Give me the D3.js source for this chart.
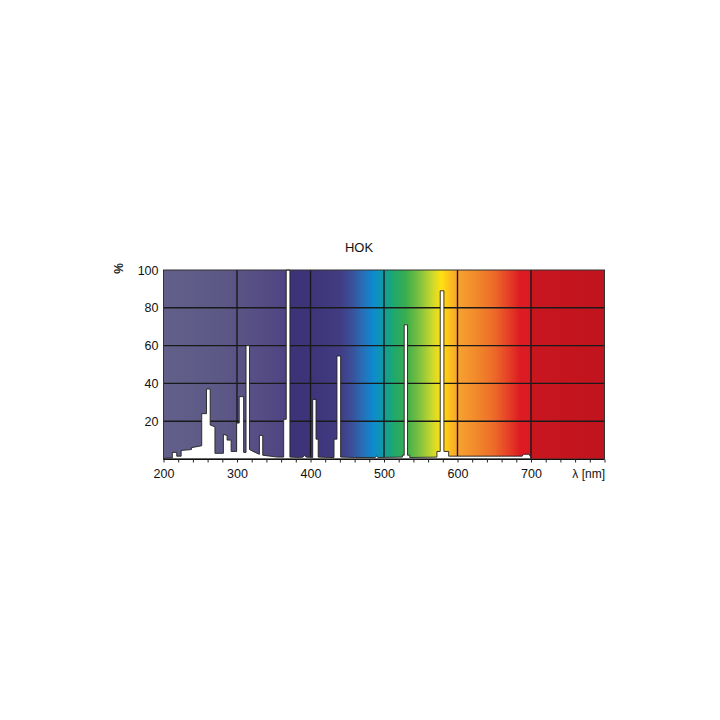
<!DOCTYPE html>
<html>
<head>
<meta charset="utf-8">
<script src="https://cdn.jsdelivr.net/npm/d3@7"></script>
<style>
  body { margin: 0; background: #fff; }
  svg { display: block; font-family: "Liberation Sans", Arial, sans-serif; }
</style>
</head>
<body>
<div id="viz"></div>
<script>
// spectrum (nm, % of max)
const wavelengths = [
  200, 203, 212, 212, 218, 218, 224, 224, 238, 238, 252, 252, 258.5, 258.5, 263.5, 263.5,
  270, 270, 281.5, 281.5, 286.5, 286.5, 292, 292, 299.5, 299.5, 303, 303, 309, 309,
  312.3, 312.3, 317, 317, 322, 330, 330.5, 330.5, 335, 335, 345, 355, 363.5, 363.5,
  367, 367, 372, 372, 385, 390, 392, 394, 403, 403, 407.5, 407.5, 410.5, 410.5,
  425, 432, 432, 436, 436, 441, 441, 460, 488, 490, 492, 525, 525, 527.5, 527.5,
  532, 532, 535, 535, 572, 572, 576.5, 576.5, 581.5, 581.5, 588, 588, 600, 688, 690, 697, 699, 700
];
const intensity = [
  0, 0.5, 0.5, 3.5, 3.5, 1.5, 1.5, 4.5, 5, 6, 7, 24, 24, 37, 37, 18,
  17, 3, 3, 13, 12.5, 10, 10, 4, 4, 19, 19, 33, 33, 3.5,
  3.5, 60, 60, 5, 4, 2.5, 2.5, 12.5, 12.5, 2, 1.5, 1, 1, 21,
  21, 100, 100, 1, 0.8, 1, 2, 1, 0.8, 31.5, 31.5, 10.5, 10.5, 1,
  0.8, 0.8, 10.5, 10.5, 54.5, 54.5, 1, 0.8, 0.8, 1.5, 0.8, 1, 2, 2, 71,
  71, 2, 2, 0.8, 1, 4, 4, 89, 89, 4, 4, 1.5, 1.5, 1.5, 2.5, 2.5, 1.5, 0
];

// background colour band (nm -> colour)
const bandStops = [200, 280, 340, 366, 367.5, 400, 440, 455, 470, 485, 498, 510, 530, 548, 565, 578, 588, 600, 625, 650, 672, 685, 698, 700, 800];
const bandColours = ['#62608a', '#5c5886', '#544b84', '#4e4482', '#3d3276', '#3d3479', '#423c82', '#3b4e98',
  '#2a6cb4', '#0d8ad0', '#0e9aa8', '#1aa676', '#3aae4c', '#7ec040', '#c8d82e', '#ffe012', '#fdc41a',
  '#f8a232', '#f28a2a', '#ed6a2a', '#e43a26', '#dc1c22', '#dc1a22', '#c8161e', '#c0141e'];

const xLabels = [200, 300, 400, 500, 600, 700];
const yLabels = [20, 40, 60, 80, 100];

const width = 720;
const height = 720;
const plotLeft = 163.5;
const plotRight = 604.5;
const plotTop = 270;
const plotBottom = 459;

const svg = d3.select('#viz')
  .append('svg')
  .attr('width', width)
  .attr('height', height);

const x = d3.scaleLinear().domain([200, 800]).range([plotLeft, plotRight]);
const y = d3.scaleLinear().domain([0, 100]).range([plotBottom, plotTop]);

const grad = svg.append('defs')
  .append('linearGradient')
  .attr('id', 'band')
  .attr('x1', '0%').attr('x2', '100%')
  .attr('y1', '0%').attr('y2', '0%');

grad.selectAll('stop')
  .data(bandStops)
  .enter()
  .append('stop')
  .attr('offset', d => `${((d - 200) / 600) * 100}%`)
  .attr('stop-color', (d, i) => bandColours[i]);

svg.append('rect')
  .attr('x', plotLeft)
  .attr('y', plotTop)
  .attr('width', plotRight - plotLeft)
  .attr('height', plotBottom - plotTop)
  .attr('fill', 'url(#band)');

// grid
svg.append('g')
  .selectAll('line')
  .data([300, 400, 500, 600, 700])
  .enter()
  .append('line')
  .attr('x1', d => x(d)).attr('x2', d => x(d))
  .attr('y1', plotTop).attr('y2', plotBottom)
  .attr('stroke', '#1a1a1a')
  .attr('stroke-width', 1.4);

svg.append('g')
  .selectAll('line')
  .data([20, 40, 60, 80])
  .enter()
  .append('line')
  .attr('x1', plotLeft).attr('x2', plotRight)
  .attr('y1', d => y(d)).attr('y2', d => y(d))
  .attr('stroke', '#1a1a1a')
  .attr('stroke-width', 1.4);

// spectrum
const points = wavelengths.map((w, i) => [w, intensity[i]]);
const area = d3.area()
  .x(d => x(d[0]))
  .y0(y(0))
  .y1(d => y(d[1]));

svg.append('path')
  .datum(points)
  .attr('d', area)
  .attr('fill', '#fff')
  .attr('stroke', '#222')
  .attr('stroke-width', 0.9)
  .attr('stroke-linejoin', 'miter');

// frame
svg.append('rect')
  .attr('x', plotLeft)
  .attr('y', plotTop)
  .attr('width', plotRight - plotLeft)
  .attr('height', plotBottom - plotTop)
  .attr('fill', 'none')
  .attr('stroke', '#333')
  .attr('stroke-width', 1);

svg.append('line')
  .attr('x1', plotLeft).attr('x2', plotRight)
  .attr('y1', plotBottom + 0.5).attr('y2', plotBottom + 0.5)
  .attr('stroke', '#111')
  .attr('stroke-width', 1.2);

// minor ticks every 20 nm
svg.append('g')
  .attr('transform', `translate(0, ${plotBottom + 0.5})`)
  .call(d3.axisBottom(x).tickValues(d3.range(200, 801, 20)).tickSize(3).tickFormat(''))
  .call(g => g.select('.domain').remove())
  .call(g => g.selectAll('line').attr('stroke', '#222'));

// x labels
svg.append('g')
  .attr('transform', `translate(0, ${plotBottom})`)
  .call(d3.axisBottom(x).tickValues(xLabels).tickSize(0).tickPadding(10))
  .call(g => g.select('.domain').remove())
  .call(g => g.selectAll('text')
    .attr('font-size', 12.5)
    .attr('font-family', '"Liberation Sans", Arial, sans-serif')
    .attr('fill', '#111'));

// y labels
svg.append('g')
  .attr('transform', `translate(${plotLeft}, 0)`)
  .call(d3.axisLeft(y).tickValues(yLabels).tickSize(0).tickPadding(5))
  .call(g => g.select('.domain').remove())
  .call(g => g.selectAll('text')
    .attr('font-size', 12.5)
    .attr('font-family', '"Liberation Sans", Arial, sans-serif')
    .attr('fill', '#111'));

svg.append('text')
  .attr('x', 605)
  .attr('y', 478)
  .attr('text-anchor', 'end')
  .attr('font-size', 12)
  .attr('fill', '#111')
  .text('λ [nm]');

svg.append('text')
  .attr('transform', 'translate(123, 268.5) rotate(-90)')
  .attr('text-anchor', 'middle')
  .attr('font-size', 12)
  .attr('font-weight', 'bold')
  .attr('fill', '#222')
  .text('%');

svg.append('text')
  .attr('x', 359)
  .attr('y', 252)
  .attr('text-anchor', 'middle')
  .attr('font-size', 13)
  .attr('fill', '#111')
  .text('HOK');
</script>
</body>
</html>
